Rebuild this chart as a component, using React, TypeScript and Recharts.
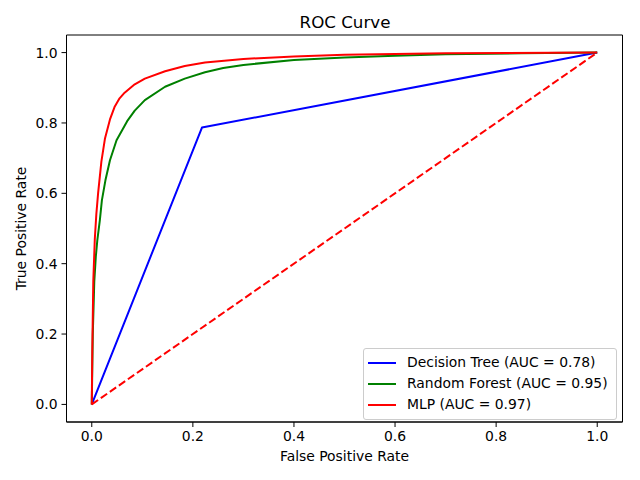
import {
  LineChart,
  Line,
  XAxis,
  YAxis,
  ReferenceArea,
  Legend,
} from 'recharts'

// ROC points
const dtFpr = [0, 0.218, 1]
const dtTpr = [0, 0.787, 1]

const rfFpr = [0, 0.002, 0.005, 0.008, 0.011, 0.016, 0.02, 0.027, 0.036, 0.049, 0.07, 0.085, 0.105, 0.145, 0.184, 0.224, 0.26, 0.3, 0.4, 0.5, 0.6, 0.7, 0.85, 1]
const rfTpr = [0, 0.2, 0.35, 0.42, 0.467, 0.524, 0.58, 0.637, 0.694, 0.751, 0.805, 0.835, 0.865, 0.903, 0.926, 0.944, 0.956, 0.965, 0.979, 0.986, 0.991, 0.995, 0.998, 1]

const mlpFpr = [0, 0.001, 0.003, 0.006, 0.009, 0.0125, 0.019, 0.026, 0.036, 0.045, 0.055, 0.065, 0.085, 0.105, 0.145, 0.184, 0.224, 0.3, 0.4, 0.5, 0.7, 1]
const mlpTpr = [0, 0.15, 0.35, 0.47, 0.54, 0.6, 0.69, 0.755, 0.81, 0.845, 0.87, 0.886, 0.91, 0.926, 0.947, 0.962, 0.972, 0.982, 0.989, 0.994, 0.998, 1]

const chanceFpr = [0, 1]
const chanceTpr = [0, 1]

const ticks = [0, 0.2, 0.4, 0.6, 0.8, 1.0]

const SERIES = [
  { name: 'Decision Tree (AUC = 0.78)', color: '#0000ff', fpr: dtFpr, tpr: dtTpr },
  { name: 'Random Forest (AUC = 0.95)', color: '#008000', fpr: rfFpr, tpr: rfTpr },
  { name: 'MLP (AUC = 0.97)', color: '#ff0000', fpr: mlpFpr, tpr: mlpTpr },
]

const pts = (xs: number[], ys: number[]) => xs.map((x, i) => ({ x, y: ys[i] }))

const FONT = 'DejaVu Sans'
const tickStyle = { fill: '#000', fontSize: 13.9, fontFamily: FONT }

function LegendBox() {
  return (
    <div
      style={{
        background: 'rgba(255,255,255,0.8)',
        border: '1px solid #cccccc',
        borderRadius: 3,
        padding: '3px 8px 4px 4px',
        fontFamily: FONT,
        fontSize: 13.9,
        color: '#000',
        lineHeight: '21px',
      }}
    >
      {SERIES.map((s) => (
        <div key={s.name} style={{ display: 'flex', alignItems: 'center', whiteSpace: 'nowrap' }}>
          <span style={{ width: 28, height: 2, background: s.color, marginRight: 11, display: 'inline-block' }} />
          {s.name}
        </div>
      ))}
    </div>
  )
}

export default function App() {
  return (
    <div style={{ position: 'absolute', left: 0, top: 0, width: 640, height: 480, background: '#fff' }}>
      <div
        style={{
          position: 'absolute',
          left: 67,
          width: 556,
          top: 12,
          textAlign: 'center',
          fontFamily: FONT,
          fontSize: 16.7,
        }}
      >
        ROC Curve
      </div>
      <LineChart width={640} height={480} margin={{ top: 35, right: 17.5, bottom: 0, left: 16.5 }}>
        <XAxis
          type="number"
          dataKey="x"
          domain={[-0.05, 1.05]}
          ticks={ticks}
          tickFormatter={(v: number) => v.toFixed(1)}
          allowDataOverflow
          height={58}
          tick={tickStyle}
          tickSize={5}
          tickMargin={4}
          axisLine={{ stroke: '#000' }}
          tickLine={{ stroke: '#000' }}
          label={{ value: 'False Positive Rate', position: 'insideBottom', offset: 19, style: { ...tickStyle } }}
        />
        <YAxis
          type="number"
          dataKey="y"
          domain={[-0.05, 1.05]}
          ticks={ticks}
          tickFormatter={(v: number) => v.toFixed(1)}
          allowDataOverflow
          width={50}
          tick={tickStyle}
          tickSize={5}
          tickMargin={4}
          axisLine={{ stroke: '#000' }}
          tickLine={{ stroke: '#000' }}
          label={{
            value: 'True Positive Rate',
            angle: -90,
            position: 'insideLeft',
            offset: 5,
            style: { ...tickStyle, textAnchor: 'middle' },
          }}
        />
        <ReferenceArea x1={-0.05} x2={1.05} y1={-0.05} y2={1.05} fill="none" stroke="#000" strokeWidth={1} />
        {SERIES.map((s) => (
          <Line
            key={s.name}
            data={pts(s.fpr, s.tpr)}
            dataKey="y"
            name={s.name}
            type="linear"
            stroke={s.color}
            strokeWidth={2}
            strokeLinejoin="round"
            dot={false}
            activeDot={false}
            isAnimationActive={false}
          />
        ))}
        <Line
          data={pts(chanceFpr, chanceTpr)}
          dataKey="y"
          type="linear"
          stroke="#ff0000"
          strokeWidth={2}
          strokeDasharray="7.7 3.3"
          dot={false}
          activeDot={false}
          legendType="none"
          isAnimationActive={false}
        />
        <Legend
          layout="vertical"
          align="center"
          verticalAlign="middle"
          content={<LegendBox />}
          wrapperStyle={{ position: 'absolute', left: 363, top: 348, width: 'auto' }}
        />
      </LineChart>
    </div>
  )
}
